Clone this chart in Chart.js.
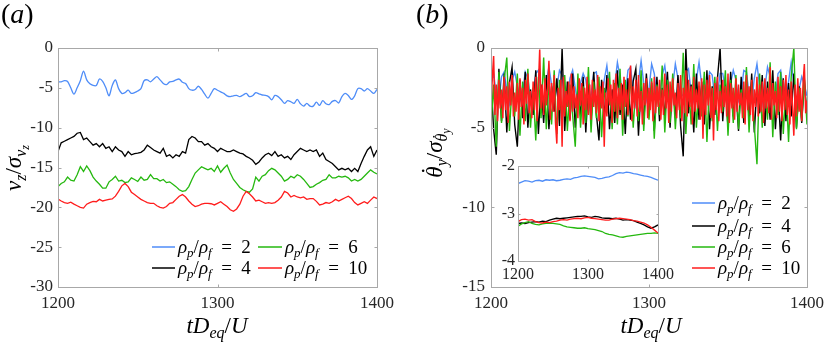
<!DOCTYPE html>
<html>
<head>
<meta charset="utf-8">
<script src="https://cdn.jsdelivr.net/npm/chart.js@4.4.0/dist/chart.umd.min.js"></script>
<style>
  body { margin: 0; background: #fff; }
  #wrap { position: relative; width: 830px; height: 342px; }
  canvas { position: absolute; }
</style>
</head>
<body>
<div id="wrap">
  <canvas id="chartA" width="415" height="342" style="left:0;top:0"></canvas>
  <canvas id="chartB" width="415" height="342" style="left:415px;top:0"></canvas>
  <canvas id="chartC" width="200" height="135" style="left:478px;top:150px"></canvas>
</div>
<script>
// ---- data ----
// panel (a): v_z / sigma, sampled every 2 time units from 1200
const startA = 1200, stepA = 2;
const vzRho2 = [
  -4.25,-4.25,-4.1,-4.2,-5.0,-5.8,-5.0,-4.1,-2.9,-4.0,
  -4.5,-4.7,-4.7,-3.9,-4.2,-5.0,-6.0,-4.7,-4.0,-5.1,
  -5.7,-5.6,-5.3,-5.7,-5.6,-5.4,-5.1,-4.1,-4.0,-4.25,
  -3.9,-3.6,-4.0,-4.45,-4.6,-4.25,-4.2,-4.0,-3.9,-4.3,
  -4.45,-5.1,-5.3,-5.2,-4.8,-5.2,-5.8,-6.3,-5.7,-5.1,
  -5.3,-5.5,-5.7,-6.0,-6.1,-6.0,-5.95,-6.1,-5.9,-5.7,
  -6.1,-6.0,-5.6,-5.75,-5.9,-5.95,-6.1,-6.5,-5.95,-6.1,
  -6.5,-6.95,-6.6,-6.75,-6.95,-6.45,-7.0,-7.3,-6.95,-7.3,
  -7.3,-6.8,-7.2,-6.6,-7.0,-7.1,-6.7,-6.6,-6.9,-6.1,
  -5.7,-5.95,-6.45,-6.0,-5.1,-5.1,-5.4,-5.1,-5.4,-5.7,
  -5.2
];
const vzRho4 = [
  -13.0,-11.9,-11.7,-11.5,-11.3,-11.1,-10.7,-10.6,-11.5,-11.3,
  -11.75,-12.2,-12.0,-12.4,-12.0,-12.6,-12.4,-13.0,-12.4,-12.8,
  -13.0,-13.6,-13.0,-13.4,-13.25,-13.2,-13.1,-12.8,-12.2,-12.5,
  -12.8,-13.0,-13.2,-12.6,-13.6,-13.4,-13.8,-13.4,-13.6,-13.0,
  -13.2,-11.5,-11.1,-11.3,-11.75,-11.75,-12.2,-12.0,-12.4,-12.6,
  -13.0,-12.6,-12.8,-13.0,-13.0,-12.8,-13.0,-13.2,-13.3,-13.6,
  -13.8,-14.1,-14.6,-14.3,-13.8,-13.4,-13.2,-13.5,-13.0,-13.6,
  -13.4,-13.8,-13.6,-14.0,-13.4,-13.0,-12.6,-12.8,-13.0,-12.8,
  -13.0,-12.8,-13.6,-13.2,-14.0,-14.25,-14.5,-14.9,-15.3,-15.1,
  -15.3,-15.1,-15.5,-15.1,-15.5,-14.5,-13.6,-12.8,-12.4,-13.6,
  -12.8
];
const vzRho6 = [
  -17.4,-17.0,-16.8,-16.2,-16.6,-16.7,-15.9,-14.9,-15.5,-14.8,
  -15.4,-16.2,-16.7,-17.1,-17.6,-17.6,-16.8,-16.5,-16.1,-16.7,
  -16.6,-16.9,-16.8,-16.3,-16.5,-16.75,-16.2,-16.6,-16.5,-15.9,
  -16.4,-16.4,-16.7,-16.5,-16.9,-16.8,-17.1,-17.4,-17.8,-18.0,
  -17.9,-17.4,-16.5,-15.7,-15.3,-14.9,-15.1,-15.3,-15.1,-15.5,
  -14.8,-15.6,-15.1,-14.7,-15.7,-16.5,-17.0,-17.5,-17.8,-18.0,
  -18.1,-17.7,-16.2,-16.7,-16.1,-15.9,-15.4,-15.1,-15.3,-15.7,
  -16.1,-16.7,-16.5,-16.1,-16.3,-15.9,-16.1,-16.5,-17.0,-17.5,
  -17.4,-17.1,-16.9,-16.6,-16.5,-15.9,-16.3,-16.3,-16.1,-16.2,
  -16.1,-16.3,-16.7,-16.5,-16.7,-16.5,-16.1,-15.7,-15.3,-15.6,
  -15.8
];
const vzRho10 = [
  -18.95,-19.2,-19.4,-19.5,-19.35,-19.6,-19.8,-20.0,-20.1,-19.6,
  -19.4,-19.25,-19.3,-19.0,-19.2,-19.1,-19.0,-18.95,-18.6,-18.0,
  -17.3,-17.0,-17.4,-18.1,-18.4,-18.7,-19.0,-19.2,-19.4,-19.5,
  -19.5,-19.8,-20.0,-20.1,-19.9,-19.5,-19.4,-19.0,-18.6,-18.4,
  -18.7,-19.2,-19.6,-19.9,-19.8,-19.6,-19.5,-19.5,-19.55,-19.7,
  -19.5,-19.3,-19.6,-19.9,-20.3,-20.5,-20.2,-19.6,-18.6,-18.0,
  -18.3,-18.7,-19.2,-19.1,-19.3,-19.5,-19.4,-19.5,-19.4,-19.1,
  -18.7,-18.0,-18.2,-18.7,-18.5,-18.7,-18.8,-18.7,-19.0,-18.9,
  -18.9,-19.25,-19.7,-19.6,-19.4,-19.5,-19.3,-19.0,-19.2,-19.0,
  -18.8,-18.6,-18.9,-19.4,-19.7,-19.5,-19.3,-19.5,-19.1,-18.7,
  -18.9
];

// panel (b): theta-dot_y / sigma from 1200; rho 2, 4, 6 every 5/3 time units
const startB = 1200, stepB = 200 / 120;
const wyRho2 = [
  -2.2,-1.6,-2.9,-3.4,-1.8,-1.5,-2.6,-3.5,-2.0,-1.5,
  -2.4,-3.3,-2.8,-1.5,-1.9,-3.2,-3.0,-1.6,-1.4,-2.7,
  -3.5,-2.1,-1.2,-2.3,-3.4,-2.5,-1.4,-1.7,-3.1,-3.3,
  -1.9,-1.4,-2.5,-3.6,-2.2,-1.6,-2.0,-3.2,-2.9,-1.6,
  -1.5,-2.8,-3.4,-2.0,-1.1,-2.6,-3.5,-2.3,-0.9,-1.8,
  -3.1,-3.0,-1.4,-1.2,-2.7,-3.6,-2.1,-0.8,-2.2,-3.3,
  -2.6,-1.0,-1.6,-3.0,-3.2,-1.7,-1.1,-2.5,-3.5,-2.4,
  -1.0,-1.9,-3.1,-2.9,-1.5,-1.3,-2.8,-3.4,-2.0,-0.9,
  -2.3,-3.5,-2.7,-1.5,-1.7,-3.2,-3.0,-1.6,-1.6,-2.6,
  -3.6,-2.2,-1.4,-2.0,-3.3,-2.8,-1.4,-1.5,-2.9,-3.4,
  -1.9,-1.0,-2.4,-3.5,-2.5,-1.2,-1.8,-3.1,-3.0,-1.6,
  -1.4,-2.7,-3.3,-2.1,-0.9,-2.2,-3.4,-2.6,-1.8,-2.3,
  -3.0
];
const wyRho4 = [
  -2.0,-5.1,-6.7,-1.3,-4.6,-1.6,-5.3,-2.2,-1.2,-4.8,
  -6.2,-2.0,-4.4,-1.5,-5.0,-2.6,-4.2,-1.4,-5.4,-2.3,
  -4.7,-1.7,-5.1,-2.4,-4.0,-1.9,-4.9,0.0,-5.2,-2.1,
  -4.5,-1.6,-5.0,-2.5,-4.3,-1.8,-5.3,-2.2,-4.6,-1.5,
  -4.1,-5.8,-2.0,-4.4,-1.7,-5.1,-2.6,-4.7,-1.4,-4.2,
  -2.3,-5.4,-1.9,-4.5,-2.1,-1.3,-5.5,-2.4,-4.8,-1.6,
  -4.0,-2.2,-5.2,-1.8,-4.6,-2.5,-4.3,-1.5,-5.0,-2.0,
  -4.4,-1.7,-4.9,-6.8,0.0,-4.1,-2.3,-5.3,-1.6,-4.5,
  -2.1,-4.8,-1.4,-5.1,-2.4,-4.2,-1.9,0.0,-4.6,-2.2,
  -5.0,-1.5,-4.3,-2.6,-5.2,-1.8,-4.7,-2.0,-4.4,-1.6,
  -5.3,-2.3,-4.1,-1.7,-4.9,-2.1,-4.5,-1.4,-5.1,-2.5,
  -5.8,-1.9,-4.6,-2.2,-4.3,-1.6,-5.0,-2.4,-4.7,-2.0,
  -4.4
];
const wyRho6 = [
  -5.0,-2.3,-6.2,-1.5,-4.7,-2.0,-0.6,-5.2,-2.4,-4.3,
  -1.6,-5.5,-2.1,-4.6,-1.3,-5.0,-2.5,-5.8,-1.8,-4.4,
  -0.6,-5.1,-2.2,-4.8,-1.4,-5.4,-2.0,-4.5,-1.7,-5.2,
  -2.3,-4.2,-6.2,-1.6,-5.0,-2.4,-4.7,-1.2,-5.3,-2.1,
  -4.4,-1.8,-5.6,-2.5,-4.1,-1.5,-5.1,-2.2,-4.8,-1.3,
  -5.5,-2.0,-4.3,-1.7,-5.0,-2.4,-4.6,-1.4,-5.2,-2.1,
  -4.5,-1.9,-5.7,-2.3,-4.2,-1.1,-5.3,-2.0,-4.7,-1.6,
  -5.1,-2.5,-4.4,-0.3,-5.4,-2.2,-4.8,-1.0,-5.0,-2.4,
  -4.3,-1.5,-5.9,-2.1,-4.6,-1.8,-5.2,-2.3,-4.0,-1.4,
  -5.5,-2.0,-4.7,-1.7,-5.1,-2.6,-4.4,-1.2,-5.3,-2.2,
  -4.9,-7.3,-1.6,-5.0,-2.4,-4.5,-0.9,-5.6,-2.1,-4.2,
  -1.5,-5.4,-2.3,-5.9,-1.8,0.0,-5.1,-2.5,-4.6,-1.9,
  -4.8
];
// rho 10 is denser: every 5/6 time units
const stepB10 = 200 / 240;
const wyRho10 = [
  -3.4,-1.9,-0.5,-4.2,-2.3,-4.6,-2.0,-3.8,-2.6,-4.4,
  -1.8,-3.9,-2.4,-4.7,-2.1,-3.6,-1.7,-4.3,-2.8,-4.0,
  -2.2,-4.5,-1.9,-3.7,-2.5,-4.8,-2.0,-3.5,-1.6,-4.1,
  -2.7,-4.4,-2.1,-3.9,-1.8,-4.6,-2.4,-0.1,-3.8,-2.3,
  -4.2,-1.9,-3.6,-2.6,-0.8,-4.5,-2.2,-4.0,-1.7,-4.7,
  -6.0,-2.5,-3.9,-2.0,-6.2,-1.8,-4.3,-2.7,-3.7,-2.1,
  -4.6,-1.6,-4.0,-2.4,-3.8,-2.9,-4.4,-1.9,-3.6,-2.2,
  -4.8,-2.5,-3.9,-1.8,-4.2,-2.3,-4.5,-2.0,-3.7,-2.6,
  -4.1,-1.7,-4.6,-2.4,-3.8,-2.1,-6.2,-2.8,-4.3,-1.9,
  -3.6,-2.3,-4.7,-2.0,-4.0,-1.6,-4.4,-2.5,-3.9,-2.2,
  -4.5,-1.8,-3.7,-2.6,-4.2,-2.1,-1.1,-4.6,-2.4,-3.8,
  -2.0,-4.3,-1.7,-4.0,-2.7,-4.8,-2.2,-3.6,-1.9,-4.4,
  -2.5,-3.9,-2.1,-4.6,-1.8,-4.1,-2.4,-3.7,-2.0,-4.5,
  -2.6,-4.2,-1.6,-3.8,-2.3,-4.7,-2.1,-4.0,-1.9,-3.6,
  -2.8,-4.4,-2.2,-3.9,-1.7,-4.6,-2.5,-4.1,-1.4,-4.3,
  -2.0,-3.7,-2.4,-4.8,-1.8,-4.0,-2.6,-3.8,-2.1,-4.5,
  -1.9,-5.7,-2.3,-4.2,-2.0,-3.6,-1.7,-4.4,-2.5,-5.8,
  -2.2,-3.9,-1.8,-4.6,-2.7,-4.1,-2.0,-3.7,-2.4,-4.3,
  -1.6,-4.7,-2.2,-3.8,-2.5,-4.5,-1.9,-4.0,-2.3,-3.6,
  -2.8,-4.4,-2.1,-4.8,-1.7,-3.9,-2.4,-4.2,-2.0,-4.6,
  -2.6,-3.7,-1.8,-4.3,-2.3,-4.0,-2.1,-4.7,-1.9,-3.8,
  -2.5,-4.1,-1.2,-4.5,-2.2,-3.6,-2.7,-4.4,-1.8,-4.0,
  -2.4,-4.6,-2.0,-3.9,-1.7,-4.2,-2.6,-4.8,-2.1,-3.7,
  -5.5,-2.3,-4.3,-1.9,-4.0,-2.5,-4.6,-2.2,-1.0,-4.1,
  -3.3
];

// inset: running mean, sampled every 5 time units from 1200
const startC = 1200, stepC = 5;
const insRho2 = [
  -2.37,-2.34,-2.31,-2.32,-2.34,-2.31,-2.30,-2.32,-2.29,-2.30,
  -2.29,-2.31,-2.30,-2.28,-2.27,-2.28,-2.25,-2.24,-2.22,-2.21,
  -2.22,-2.23,-2.24,-2.27,-2.26,-2.24,-2.23,-2.20,-2.16,-2.14,
  -2.15,-2.13,-2.14,-2.16,-2.17,-2.19,-2.21,-2.22,-2.24,-2.27,
  -2.30
];
const insRho4 = [
  -3.21,-3.20,-3.21,-3.19,-3.18,-3.17,-3.18,-3.16,-3.17,-3.14,
  -3.12,-3.10,-3.11,-3.10,-3.09,-3.08,-3.07,-3.06,-3.06,-3.05,
  -3.07,-3.08,-3.06,-3.07,-3.09,-3.10,-3.10,-3.11,-3.10,-3.12,
  -3.14,-3.13,-3.14,-3.15,-3.18,-3.21,-3.24,-3.28,-3.31,-3.28,
  -3.24
];
const insRho6 = [
  -3.27,-3.22,-3.19,-3.17,-3.21,-3.23,-3.24,-3.22,-3.21,-3.20,
  -3.21,-3.22,-3.23,-3.26,-3.28,-3.29,-3.30,-3.31,-3.31,-3.30,
  -3.32,-3.33,-3.34,-3.36,-3.38,-3.42,-3.44,-3.45,-3.47,-3.49,
  -3.50,-3.48,-3.47,-3.46,-3.45,-3.44,-3.43,-3.42,-3.42,-3.41,
  -3.42
];
const insRho10 = [
  -3.17,-3.13,-3.12,-3.14,-3.13,-3.17,-3.19,-3.20,-3.18,-3.19,
  -3.17,-3.16,-3.14,-3.13,-3.14,-3.12,-3.11,-3.10,-3.11,-3.09,
  -3.08,-3.10,-3.11,-3.12,-3.13,-3.14,-3.14,-3.12,-3.11,-3.10,
  -3.11,-3.12,-3.13,-3.15,-3.16,-3.18,-3.20,-3.24,-3.29,-3.35,
  -3.41
];

const xTicks = [1200, 1300, 1400];
const rhoRatios = ['2', '4', '6', '10'];
const colors = { r2: '#4f8df8', r4: '#000000', r6: '#25b80f', r10: '#ff1c1c' };

// ---- helpers ----
const FONT = "'Liberation Serif', serif";
Chart.defaults.font.family = FONT;
Chart.defaults.color = '#262626';

function pts(vals, start, step) {
  return vals.map((v, i) => ({ x: start + i * step, y: v }));
}

function fontOf(p) {
  return (p.it ? 'italic ' : '') + p.sz + 'px ' + FONT;
}

// draws a run of text pieces (for sub/superscripts); p.dot puts a dot accent over the glyph
function mathRun(ctx, parts, x, y, align) {
  let w = 0;
  parts.forEach(p => { ctx.font = fontOf(p); w += ctx.measureText(p.t).width; });
  let cx = align === 'center' ? x - w / 2 : x;
  parts.forEach(p => {
    ctx.font = fontOf(p);
    const yy = y + (p.dy || 0);
    const gw = ctx.measureText(p.t).width;
    ctx.fillText(p.t, cx, yy);
    if (p.dot) {
      ctx.beginPath();
      ctx.arc(cx + gw * 0.62, yy - p.sz * 0.82, p.sz * 0.055, 0, Math.PI * 2);
      ctx.fill();
    }
    cx += gw;
  });
}

function rhoLabel(n, s) {
  const sub = Math.round(s * 0.7);
  return [
    { t: 'ρ', it: 1, sz: s }, { t: 'p', it: 1, sz: sub, dy: 4 },
    { t: '/', sz: s }, { t: 'ρ', it: 1, sz: s }, { t: 'f', it: 1, sz: sub, dy: 4 },
    { t: '\u2002=\u2002' + n, sz: s }
  ];
}

function panelTag(ctx, letter, x, y) {
  ctx.fillStyle = '#000';
  ctx.textBaseline = 'alphabetic';
  mathRun(ctx, [{ t: '(', sz: 28 }, { t: letter, it: 1, sz: 28 }, { t: ')', sz: 28 }], x, y, 'left');
}

const xTitle = [
  { t: 't', it: 1, sz: 23 }, { t: 'D', it: 1, sz: 23 },
  { t: 'eq', it: 1, sz: 16, dy: 5 }, { t: '/', sz: 23 }, { t: 'U', it: 1, sz: 23 }
];

function drawLegendRow(ctx, color, n, x0, x1, y) {
  ctx.strokeStyle = color;
  ctx.lineWidth = 1.5;
  ctx.beginPath(); ctx.moveTo(x0, y); ctx.lineTo(x1, y); ctx.stroke();
  ctx.fillStyle = '#000';
  mathRun(ctx, rhoLabel(n, 19), x1 + 3, y + 6, 'left');
}

// box with inward ticks, MATLAB style
const framePlugin = {
  id: 'frame',
  beforeDatasetsDraw(chart) {
    if (!chart.options.plugins.frame.white) return;
    const a = chart.chartArea, ctx = chart.ctx;
    ctx.save();
    ctx.fillStyle = '#fff';
    ctx.fillRect(a.left, a.top, a.right - a.left, a.bottom - a.top);
    ctx.restore();
  },
  afterDatasetsDraw(chart) {
    const { ctx, chartArea: a, scales } = chart;
    const tl = chart.options.plugins.frame.tick || 3;
    ctx.save();
    ctx.strokeStyle = '#a8a8a8';
    ctx.lineWidth = 1;
    const L = Math.round(a.left) + 0.5, R = Math.round(a.right) + 0.5;
    const T = Math.round(a.top) + 0.5, B = Math.round(a.bottom) + 0.5;
    ctx.strokeRect(L, T, R - L, B - T);
    ctx.beginPath();
    scales.x.ticks.forEach(t => {
      const px = Math.round(scales.x.getPixelForValue(t.value)) + 0.5;
      ctx.moveTo(px, B); ctx.lineTo(px, B - tl);
      ctx.moveTo(px, T); ctx.lineTo(px, T + tl);
    });
    scales.y.ticks.forEach(t => {
      const py = Math.round(scales.y.getPixelForValue(t.value)) + 0.5;
      ctx.moveTo(L, py); ctx.lineTo(L + tl, py);
      ctx.moveTo(R, py); ctx.lineTo(R - tl, py);
    });
    ctx.stroke();
    ctx.restore();
  }
};

function lineSet(vals, start, step, color, order, width, tension) {
  return {
    data: pts(vals, start, step),
    borderColor: color,
    borderWidth: width,
    pointRadius: 0,
    tension: tension || 0,
    order: order
  };
}

function baseOptions(o) {
  return {
    responsive: false,
    animation: false,
    devicePixelRatio: 1,
    layout: { padding: o.pad },
    plugins: { legend: { display: false }, tooltip: { enabled: false }, frame: { white: o.white, tick: o.tick } },
    scales: {
      x: {
        type: 'linear', min: 1200, max: 1400,
        afterBuildTicks: s => { s.ticks = xTicks.map(v => ({ value: v })); },
        ticks: { font: { size: o.fs }, padding: o.xpad, maxRotation: 0, autoSkip: false, color: '#262626',
          callback: v => String(v) },
        grid: { display: false, drawTicks: false },
        border: { display: false },
        afterFit: s => { s.height = o.xh; }
      },
      y: {
        min: o.ymin, max: o.ymax,
        ticks: { stepSize: o.ystep, font: { size: o.fs }, padding: o.ypad, color: '#262626',
          callback: v => String(v) },
        grid: { display: false, drawTicks: false },
        border: { display: false },
        afterFit: s => { s.width = o.yw; }
      }
    }
  };
}

// ---- panel (a) ----
new Chart(document.getElementById('chartA'), {
  type: 'line',
  data: {
    datasets: [
      lineSet(vzRho2, startA, stepA, colors.r2, 4, 1.3, 0.3),
      lineSet(vzRho4, startA, stepA, colors.r4, 3, 1.3),
      lineSet(vzRho6, startA, stepA, colors.r6, 2, 1.3),
      lineSet(vzRho10, startA, stepA, colors.r10, 1, 1.3)
    ]
  },
  options: baseOptions({ pad: { left: 0, top: 48, right: 38, bottom: 0 }, fs: 17, xpad: 6, ypad: 5,
    xh: 55, yw: 58, ymin: -30, ymax: 0, ystep: 5, tick: 3 }),
  plugins: [framePlugin, {
    id: 'decoA',
    afterDraw(chart) {
      const ctx = chart.ctx;
      ctx.save();
      panelTag(ctx, 'a', 1, 23);
      ctx.fillStyle = '#000';
      mathRun(ctx, xTitle, 217, 333, 'center');
      ctx.save();
      ctx.translate(21, 168);
      ctx.rotate(-Math.PI / 2);
      mathRun(ctx, [
        { t: 'v', it: 1, sz: 23 }, { t: 'z', it: 1, sz: 16, dy: 5 }, { t: '/', sz: 23 },
        { t: 'σ', it: 1, sz: 23 }, { t: 'v', it: 1, sz: 16, dy: 5 }, { t: 'z', it: 1, sz: 12, dy: 8 }
      ], 0, 0, 'center');
      ctx.restore();
      drawLegendRow(ctx, colors.r2, rhoRatios[0], 152, 175, 247);
      drawLegendRow(ctx, colors.r4, rhoRatios[1], 152, 175, 268);
      drawLegendRow(ctx, colors.r6, rhoRatios[2], 258, 282, 247);
      drawLegendRow(ctx, colors.r10, rhoRatios[3], 258, 282, 268);
      ctx.restore();
    }
  }]
});

// ---- panel (b) ----
new Chart(document.getElementById('chartB'), {
  type: 'line',
  data: {
    datasets: [
      lineSet(wyRho2, startB, stepB, colors.r2, 4, 1.4),
      lineSet(wyRho4, startB, stepB, colors.r4, 3, 1.4),
      lineSet(wyRho6, startB, stepB, colors.r6, 2, 1.4),
      lineSet(wyRho10, startB, stepB10, colors.r10, 1, 1.5)
    ]
  },
  options: baseOptions({ pad: { left: 0, top: 48, right: 19, bottom: 0 }, fs: 17, xpad: 6, ypad: 6,
    xh: 55, yw: 76, ymin: -15, ymax: 0, ystep: 5, tick: 3 }),
  plugins: [framePlugin, {
    id: 'decoB',
    afterDraw(chart) {
      const ctx = chart.ctx;
      ctx.save();
      panelTag(ctx, 'b', 1, 23);
      ctx.fillStyle = '#000';
      mathRun(ctx, xTitle, 236, 333, 'center');
      ctx.save();
      ctx.translate(27, 153);
      ctx.rotate(-Math.PI / 2);
      mathRun(ctx, [
        { t: 'θ', it: 1, sz: 23, dot: 1 }, { t: 'y', it: 1, sz: 16, dy: 5 }, { t: '/', sz: 23 },
        { t: 'σ', it: 1, sz: 23 }, { t: 'θ', it: 1, sz: 16, dy: 5, dot: 1 }, { t: 'y', it: 1, sz: 12, dy: 8 }
      ], 0, 0, 'center');
      ctx.restore();
      drawLegendRow(ctx, colors.r2, rhoRatios[0], 277, 300, 203);
      drawLegendRow(ctx, colors.r4, rhoRatios[1], 277, 300, 226);
      drawLegendRow(ctx, colors.r6, rhoRatios[2], 277, 300, 247);
      drawLegendRow(ctx, colors.r10, rhoRatios[3], 277, 300, 268);
      ctx.restore();
    }
  }]
});

// ---- inset ----
new Chart(document.getElementById('chartC'), {
  type: 'line',
  data: {
    datasets: [
      lineSet(insRho2, startC, stepC, colors.r2, 4, 1.3),
      lineSet(insRho4, startC, stepC, colors.r4, 3, 1.3),
      lineSet(insRho6, startC, stepC, colors.r6, 2, 1.3),
      lineSet(insRho10, startC, stepC, colors.r10, 1, 1.3)
    ]
  },
  options: baseOptions({ pad: { left: 0, top: 16, right: 19, bottom: 0 }, fs: 16, xpad: 4, ypad: 3,
    xh: 24, yw: 40, ymin: -4, ymax: -2, ystep: 1, tick: 2, white: true }),
  plugins: [framePlugin]
});
</script>
</body>
</html>
